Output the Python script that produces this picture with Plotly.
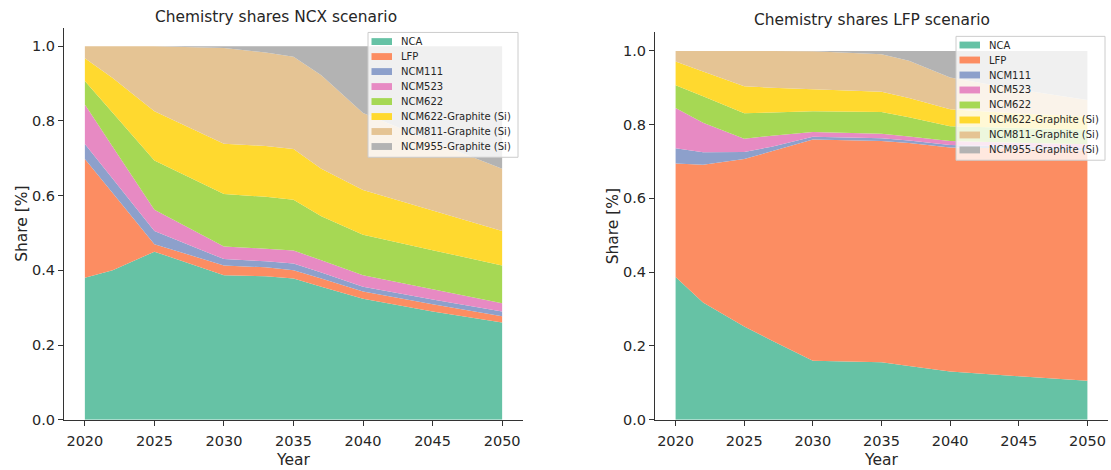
import plotly.graph_objects as go

# Battery chemistry market shares, NCX scenario
years_ncx = [2020, 2022, 2025, 2030, 2033, 2035, 2037, 2040, 2045, 2050]
ncx_nca = [0.380, 0.400, 0.450, 0.387, 0.384, 0.378, 0.356, 0.324, 0.290, 0.260]
ncx_lfp = [0.318, 0.207, 0.020, 0.026, 0.024, 0.022, 0.022, 0.019, 0.019, 0.017]
ncx_ncm111 = [0.040, 0.038, 0.035, 0.017, 0.016, 0.018, 0.016, 0.013, 0.013, 0.013]
ncx_ncm523 = [0.106, 0.086, 0.057, 0.034, 0.034, 0.035, 0.033, 0.031, 0.027, 0.022]
ncx_ncm622 = [0.063, 0.091, 0.132, 0.140, 0.139, 0.136, 0.118, 0.108, 0.105, 0.101]
ncx_ncm622_g = [0.061, 0.093, 0.132, 0.135, 0.136, 0.136, 0.127, 0.120, 0.106, 0.092]
ncx_ncm811_g = [0.032, 0.085, 0.174, 0.256, 0.250, 0.247, 0.250, 0.206, 0.185, 0.167]
ncx_ncm955_g = [0.000, 0.000, 0.000, 0.005, 0.017, 0.028, 0.078, 0.179, 0.255, 0.328]

# Battery chemistry market shares, LFP scenario
years_lfp = [2020, 2022, 2025, 2027, 2030, 2035, 2037, 2040, 2045, 2050]
lfp_nca = [0.387, 0.318, 0.253, 0.215, 0.160, 0.156, 0.146, 0.131, 0.118, 0.106]
lfp_lfp = [0.308, 0.373, 0.454, 0.513, 0.600, 0.600, 0.604, 0.607, 0.617, 0.624]
lfp_ncm111 = [0.041, 0.034, 0.019, 0.012, 0.007, 0.007, 0.007, 0.007, 0.006, 0.007]
lfp_ncm523 = [0.109, 0.080, 0.036, 0.030, 0.013, 0.012, 0.011, 0.011, 0.010, 0.010]
lfp_ncm622 = [0.062, 0.072, 0.069, 0.063, 0.056, 0.059, 0.052, 0.040, 0.040, 0.040]
lfp_ncm622_g = [0.064, 0.067, 0.073, 0.067, 0.060, 0.055, 0.052, 0.046, 0.039, 0.035]
lfp_ncm811_g = [0.029, 0.056, 0.096, 0.100, 0.103, 0.102, 0.101, 0.086, 0.065, 0.045]
lfp_ncm955_g = [0.000, 0.000, 0.000, 0.000, 0.001, 0.009, 0.027, 0.072, 0.105, 0.133]

chemistries = ["NCA", "LFP", "NCM111", "NCM523", "NCM622",
               "NCM622-Graphite (Si)", "NCM811-Graphite (Si)", "NCM955-Graphite (Si)"]
colors = ["#66c2a5", "#fc8d62", "#8da0cb", "#e78ac3", "#a6d854",
          "#ffd92f", "#e5c494", "#b3b3b3"]

ncx_series = [ncx_nca, ncx_lfp, ncx_ncm111, ncx_ncm523, ncx_ncm622,
              ncx_ncm622_g, ncx_ncm811_g, ncx_ncm955_g]
lfp_series = [lfp_nca, lfp_lfp, lfp_ncm111, lfp_ncm523, lfp_ncm622,
              lfp_ncm622_g, lfp_ncm811_g, lfp_ncm955_g]

year_ticks = [2020, 2025, 2030, 2035, 2040, 2045, 2050]
share_ticks = [0.0, 0.2, 0.4, 0.6, 0.8, 1.0]

FONT = "DejaVu Sans"
INK = "#262626"
W, H = 1111, 470


def px_x(p):
    return p / W


def px_y(p):
    return 1 - p / H


fig = go.Figure()

for name, col, vals in zip(chemistries, colors, ncx_series):
    fig.add_trace(go.Scatter(
        x=years_ncx, y=vals, name=name, stackgroup="ncx", mode="none",
        fillcolor=col, line=dict(width=0), xaxis="x", yaxis="y"))

for name, col, vals in zip(chemistries, colors, lfp_series):
    fig.add_trace(go.Scatter(
        x=years_lfp, y=vals, name=name, stackgroup="lfp", mode="none",
        fillcolor=col, line=dict(width=0), xaxis="x2", yaxis="y2"))

# Compact legend boxes (semi-transparent frame, colour patch, label)
shapes = []
annotations = []


def add_legend(left, top, right, bottom, first_row, row_step):
    shapes.append(dict(
        type="rect", xref="paper", yref="paper", layer="above",
        x0=px_x(left), x1=px_x(right), y0=px_y(bottom), y1=px_y(top),
        fillcolor="rgba(255,255,255,0.8)", line=dict(color="#cccccc", width=1)))
    for i, (name, col) in enumerate(zip(chemistries, colors)):
        cy = first_row + i * row_step
        shapes.append(dict(
            type="rect", xref="paper", yref="paper", layer="above",
            x0=px_x(left + 3.5), x1=px_x(left + 24), y0=px_y(cy + 3.5), y1=px_y(cy - 3.5),
            fillcolor=col, line=dict(width=0)))
        annotations.append(dict(
            text=name, x=px_x(left + 31), y=px_y(cy), xref="paper", yref="paper",
            xanchor="left", yanchor="middle", showarrow=False,
            font=dict(family=FONT, size=10, color=INK)))


add_legend(368, 33, 518, 160, 42.3, 15.25)
add_legend(956, 37, 1105, 163, 45.8, 15.25)

title_font = dict(family=FONT, size=15.4, color=INK)
annotations += [
    dict(text="Chemistry shares NCX scenario", x=px_x(276), y=px_y(17),
         xref="paper", yref="paper", xanchor="center", yanchor="middle",
         showarrow=False, font=title_font),
    dict(text="Chemistry shares LFP scenario", x=px_x(872), y=px_y(20),
         xref="paper", yref="paper", xanchor="center", yanchor="middle",
         showarrow=False, font=title_font),
]

axis_common = dict(
    showline=True, linecolor="#333333", linewidth=1,
    ticks="outside", ticklen=5, tickcolor="#333333", tickwidth=1,
    showgrid=False, zeroline=False,
    tickfont=dict(family=FONT, size=14.5, color=INK),
)

xcommon = dict(axis_common, range=[2018.5, 2051.5], tickvals=year_ticks,
               ticklabelstandoff=3,
               title=dict(text="Year", font=dict(family=FONT, size=15.5, color=INK), standoff=6))
ycommon = dict(axis_common, range=[0, 1.05], tickvals=share_ticks, tickformat=".1f",
               title=dict(text="Share [%]", font=dict(family=FONT, size=15.5, color=INK), standoff=0))

fig.update_layout(
    width=W, height=H,
    margin=dict(l=0, r=0, t=0, b=0),
    paper_bgcolor="white", plot_bgcolor="white",
    font=dict(family=FONT, color=INK),
    showlegend=False,
    xaxis=dict(xcommon, domain=[px_x(64), px_x(523)], anchor="y"),
    yaxis=dict(ycommon, domain=[px_y(427), px_y(28)], anchor="x"),
    xaxis2=dict(xcommon, domain=[px_x(655), px_x(1108)], anchor="y2"),
    yaxis2=dict(ycommon, domain=[px_y(427), px_y(33)], anchor="x2"),
    shapes=shapes,
    annotations=annotations,
)

fig.write_html("out.html")
